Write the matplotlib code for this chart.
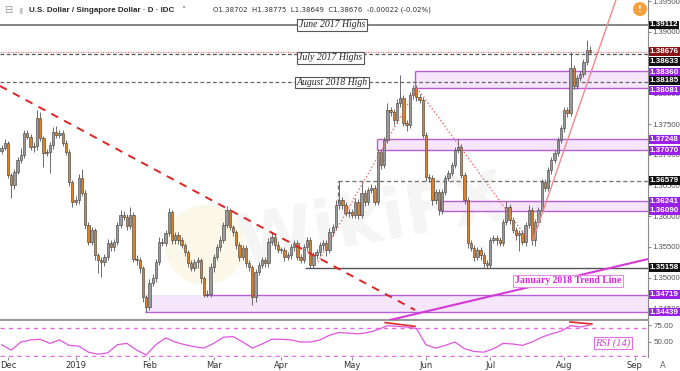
"""
USD/SGD daily candles with RSI(14) - TradingView style recreation
"""

import numpy as np
import matplotlib
matplotlib.use("Agg")
import matplotlib.pyplot as plt
from matplotlib.patches import Rectangle, Ellipse
from matplotlib.transforms import offset_copy

# ---- data -------------------------------------------------------------
# bar index 0 = 3 Dec 2018, one bar per weekday, first bar is index -2
first_bar = -2
first_open = 1.3706
closes = [
    1.3711, 1.3719,
    1.3667, 1.3650, 1.3672, 1.3691, 1.3699, 1.3735, 1.3729, 1.3712, 1.3714, 1.3760,
    1.3727, 1.3703, 1.3704, 1.3716, 1.3737, 1.3732, 1.3735, 1.3719, 1.3704, 1.3655,
    1.3623, 1.3626, 1.3662, 1.3637, 1.3585, 1.3558, 1.3577, 1.3536, 1.3528, 1.3525,
    1.3533, 1.3556, 1.3549, 1.3558, 1.3585, 1.3602, 1.3598, 1.3584, 1.3602, 1.3531,
    1.3528, 1.3515, 1.3468, 1.3452, 1.3491, 1.3499, 1.3525, 1.3558, 1.3556, 1.3572,
    1.3606, 1.3561, 1.3569, 1.3561, 1.3553, 1.3541, 1.3523, 1.3515, 1.3525, 1.3528,
    1.3499, 1.3471, 1.3474, 1.3517, 1.3533, 1.3549, 1.3561, 1.3585, 1.3610, 1.3582,
    1.3574, 1.3553, 1.3533, 1.3548, 1.3523, 1.3517, 1.3468, 1.3509, 1.3520, 1.3528,
    1.3523, 1.3558, 1.3566, 1.3553, 1.3545, 1.3545, 1.3533, 1.3536, 1.3549, 1.3556,
    1.3533, 1.3528, 1.3549, 1.3561, 1.3520, 1.3536, 1.3541, 1.3553, 1.3556, 1.3545,
    1.3574, 1.3582, 1.3618, 1.3626, 1.3618, 1.3605, 1.3606, 1.3602, 1.3623, 1.3602,
    1.3637, 1.3623, 1.3642, 1.3646, 1.3623, 1.3704, 1.3683, 1.3724, 1.3773, 1.3769,
    1.3756, 1.3784, 1.3792, 1.3752, 1.3748, 1.3797, 1.3809, 1.3794, 1.3789, 1.3732,
    1.3664, 1.3662, 1.3626, 1.3639, 1.3610, 1.3639, 1.3662, 1.3670, 1.3683, 1.3708,
    1.3712, 1.3667, 1.3626, 1.3556, 1.3548, 1.3533, 1.3545, 1.3536, 1.3523, 1.3520,
    1.3561, 1.3564, 1.3561, 1.3556, 1.3590, 1.3615, 1.3593, 1.3577, 1.3569, 1.3572,
    1.3558, 1.3585, 1.3610, 1.3561, 1.3590, 1.3610, 1.3655, 1.3646, 1.3675, 1.3691,
    1.3703, 1.3724, 1.3743, 1.3773, 1.3768, 1.3841, 1.3812, 1.3825, 1.3831, 1.3851,
    1.38702, 1.38676,
]
# wick lengths in pips beyond the candle body
upper_wick = [
    5, 6,
    4, 3, 4, 5, 12, 5, 6, 5, 6, 13,
    10, 4, 5, 5, 8, 10, 5, 5, 5, 5,
    4, 6, 6, 15, 5, 5, 6, 4, 4, 6,
    5, 6, 5, 5, 5, 8, 6, 5, 13, 5,
    5, 5, 4, 4, 6, 6, 5, 8, 6, 6,
    8, 4, 5, 5, 5, 4, 4, 5, 5, 5,
    4, 4, 5, 6, 5, 6, 6, 5, 6, 4,
    4, 4, 5, 5, 5, 5, 4, 5, 5, 6,
    6, 6, 6, 5, 6, 5, 5, 5, 5, 5,
    5, 5, 5, 5, 5, 6, 5, 5, 5, 5,
    6, 5, 8, 32, 5, 5, 5, 5, 6, 5,
    20, 5, 5, 6, 5, 5, 5, 5, 12, 5,
    5, 6, 37, 5, 5, 5, 5, 5, 5, 5,
    5, 5, 5, 5, 5, 5, 5, 5, 5, 5,
    13, 5, 5, 5, 5, 5, 5, 5, 5, 5,
    5, 5, 5, 5, 5, 10, 5, 5, 5, 6,
    5, 5, 8, 5, 5, 5, 5, 5, 5, 5,
    5, 5, 5, 5, 5, 26, 5, 5, 5, 5,
    16, 7,
]
lower_wick = [
    5, 4,
    5, 21, 6, 4, 4, 5, 4, 5, 8, 6,
    5, 23, 5, 34, 6, 5, 5, 5, 5, 6,
    8, 5, 6, 5, 6, 5, 5, 8, 21, 24,
    6, 5, 6, 5, 5, 5, 5, 6, 5, 6,
    8, 8, 8, 8, 5, 5, 6, 5, 5, 5,
    4, 6, 6, 6, 5, 6, 6, 5, 5, 10,
    8, 2, 3, 5, 8, 5, 5, 5, 5, 5,
    6, 6, 6, 5, 5, 6, 13, 8, 5, 5,
    5, 5, 5, 6, 5, 5, 6, 5, 5, 5,
    5, 5, 5, 5, 4, 5, 5, 6, 8, 10,
    5, 6, 5, 6, 6, 5, 6, 5, 5, 6,
    5, 6, 5, 5, 5, 5, 6, 5, 5, 6,
    8, 5, 6, 6, 10, 5, 6, 6, 5, 5,
    6, 6, 8, 6, 8, 6, 5, 5, 5, 5,
    5, 5, 6, 8, 5, 6, 5, 8, 6, 4,
    5, 5, 8, 5, 5, 5, 5, 5, 8, 25,
    5, 6, 5, 8, 10, 6, 5, 5, 5, 6,
    5, 5, 5, 6, 6, 5, 5, 5, 5, 5,
    5, 3,
]

# RSI(14), read every third bar
rsi_first_bar = -2
rsi_step = 3
rsi_values = [
    46, 38, 50, 53, 54, 48, 53, 45, 44, 35,
    32, 34, 46, 48, 38, 31, 46, 56, 50, 46,
    43, 41, 48, 57, 58, 50, 41, 47, 54, 54,
    53, 50, 50, 53, 60, 64, 63, 62, 64, 68,
    74, 73, 72, 70, 46, 41, 45, 50, 40, 36,
    35, 40, 48, 47, 45, 50, 57, 62, 66, 74,
    72, 75,
]

month_labels = ['Dec', '2019', 'Feb', 'Mar', 'Apr', 'May', 'Jun', 'Jul', 'Aug', 'Sep']
month_bars = [0, 21, 44, 64, 85, 107, 130, 150, 173, 195]

# horizontal levels
last_close = 1.38676
june_2017_high = 1.39112
july_2017_high = 1.38633
aug_2018_high = 1.38185
mid_level = 1.36579
mid_level_start = 102.6
mid_level_drop = 1.36214
april_low = 1.35158
april_low_start = 92.4

# shaded zones
zone_low = [1.38081, 1.37070, 1.36090, 1.34439]
zone_high = [1.38360, 1.37248, 1.36241, 1.34719]
zone_start = [126.6, 114.8, 134.4, 42.6]
zone_top_start = [126.6, 114.8, 134.4, 61.3]

# drawn trend lines (bar, price)
down_bars, down_prices = [-2.5, 126.6], [1.38119, 1.34472]
rise_bars, rise_prices = [96.4, 127.2], [1.35254, 1.38086]
fall_bars, fall_prices = [127.2, 161.4], [1.38086, 1.35644]
aug_bars, aug_prices = [163.3, 189.1], [1.35612, 1.39519]
jan_bars, jan_prices = [118.8, 199.1], [1.34309, 1.35302]
rsi_div1_bars, rsi_div1_vals = [117.3, 126.6], [78.5, 73.0]
rsi_div2_bars, rsi_div2_vals = [174.8, 181.6], [79.5, 76.5]

# price scale labels
axis_label_prices = [1.39112, 1.38676, 1.38633, 1.38360, 1.38185, 1.38081, 1.37248,
                     1.37070, 1.36579, 1.36241, 1.36090, 1.35158, 1.34719, 1.34439]
axis_label_kind = ['k', 'r', 'k', 'p', 'k', 'p', 'p', 'p', 'k', 'p', 'p', 'k', 'p', 'p']
axis_label_nudge = [0, 0, 7, 1, -1, 2, 0, 0, 0, 0, 0, 0, 0, 0]
plain_ticks = [1.345, 1.350, 1.355, 1.360, 1.365, 1.370, 1.375, 1.380, 1.385, 1.390, 1.395]

# ---- figure -----------------------------------------------------------
W, H = 680, 371
fig = plt.figure(figsize=(W / 100, H / 100), dpi=100)
fig.patch.set_facecolor('white')


def fx(px):
    return px / W


def fy(py):
    return 1 - py / H


ax = fig.add_axes([0, fy(320), fx(648), 320 / H])
ax_rsi = fig.add_axes([0, fy(357), fx(648), 36 / H])

XL = (-2.49, 199.07)
ax.set_xlim(*XL)
ax.set_ylim(1.34309, 1.39519)
ax_rsi.set_xlim(*XL)
ax_rsi.set_ylim(27.9, 80.9)

# candles
bars = np.arange(first_bar, first_bar + len(closes))
c = np.array(closes)
o = np.concatenate([[first_open], c[:-1]])
up = c >= o
body_lo = np.minimum(o, c)
body_hi = np.maximum(o, c)
highs = body_hi + np.array(upper_wick) * 1e-4
lows = body_lo - np.array(lower_wick) * 1e-4

ax.vlines(bars, lows, highs, color='#555555', lw=0.6, zorder=3)
heights = np.maximum(body_hi - body_lo, 0.00008)
ax.bar(bars[up], heights[up], bottom=body_lo[up], width=0.72,
       color='#9a9a9a', edgecolor='#3a3a3a', lw=0.4, zorder=4)
ax.bar(bars[~up], heights[~up], bottom=body_lo[~up], width=0.72,
       color='#d9822b', edgecolor='#3a3a3a', lw=0.4, zorder=4)

# zones
for lo, hi, s, ts in zip(zone_low, zone_high, zone_start, zone_top_start):
    ax.add_patch(Rectangle((s, lo), 210 - s, hi - lo, fc='#f5e6fb', ec='none', zorder=1))
    ax.hlines(lo, s, 210, color='#b65fd9', lw=1.0, zorder=2)
    ax.hlines(hi, ts, 210, color='#b65fd9', lw=1.0, zorder=2)
    if s == ts:
        ax.vlines(s, lo, hi, color='#b65fd9', lw=1.0, zorder=2)

# levels
ax.axhline(june_2017_high, color='#707070', lw=1.2, zorder=2)
ax.axhline(last_close, color='#e08080', lw=0.9, ls=(0, (1, 1)), zorder=2)
ax.axhline(july_2017_high, color='#555555', lw=0.9, ls=(0, (3, 2)), zorder=2)
ax.axhline(aug_2018_high, color='#666666', lw=0.9, ls=(0, (3, 2)), zorder=2)
ax.hlines(mid_level, mid_level_start, 210, color='#777777', lw=1.0, ls=(0, (3, 2)), zorder=2)
ax.vlines(mid_level_start, mid_level_drop, mid_level, color='#777777', lw=1.0,
          ls=(0, (3, 2)), zorder=2)
ax.hlines(april_low, april_low_start, 210, color='#555555', lw=1.0, zorder=2)

# trend lines
ax.plot(down_bars, down_prices, color='#e02424', lw=1.4, ls=(0, (4, 3.5)), zorder=5)
ax.plot(rise_bars, rise_prices, color='#f06a6a', lw=1.0, ls=(0, (1, 1.6)), zorder=5)
ax.plot(fall_bars, fall_prices, color='#f06a6a', lw=1.0, ls=(0, (1, 1.6)), zorder=5)
ax.plot(aug_bars, aug_prices, color='#f08a8a', lw=1.0, zorder=5)
ax.plot(jan_bars, jan_prices, color='#d63ad6', lw=1.5, zorder=5)

# level captions
cap = dict(fontsize=7, family='Liberation Serif', style='italic', color='#222222',
           ha='center', va='center', zorder=6)
box = dict(boxstyle='square,pad=0.15', fc='white', ec='#555555', lw=0.8)
ax.text(100.8, june_2017_high, 'June 2017 Highs', bbox=box, **cap)
ax.text(100.2, 1.38575, 'July 2017 Highs', bbox=box, **cap)
ax.text(100.8, 1.38176, 'August 2018 High', bbox=box, **cap)
ax.text(174.2, 1.34944, 'January 2018 Trend Line', fontsize=7, family='Liberation Serif',
        weight='bold', color='#dd22dd', ha='center', va='center', zorder=6,
        bbox=dict(boxstyle='square,pad=0.15', fc='white', ec='#e58ee5', lw=0.8))

# watermark
ax.add_patch(Ellipse((fx(205), fy(245)), 80 / W, 80 / H, transform=fig.transFigure,
                     fc='#f6ecc8', ec='none', alpha=0.4, zorder=0))
ax.text(fx(372), fy(222), 'WikiFX', transform=fig.transFigure, fontsize=50,
        weight='bold', color='#8c8c8c', alpha=0.09, rotation=10,
        ha='center', va='center', zorder=0)

# axes styling (main)
for side in ['left', 'top']:
    ax.spines[side].set_visible(False)
ax.spines['right'].set_color('#8a8a8a')
ax.spines['bottom'].set_color('#9a9a9a')
ax.spines['bottom'].set_linewidth(1.6)
ax.set_xticks([])
ax.yaxis.tick_right()
ax.set_yticks(plain_ticks)
ax.set_yticklabels([f'{t:.5f}' for t in plain_ticks], family='Liberation Sans')
ax.tick_params(axis='y', labelsize=5.6, labelcolor='#555555', color='#8a8a8a',
               length=2, pad=1)

# price scale value labels
kind_colors = {'k': '#111111', 'r': '#8e1414', 'p': '#9b1fe8'}
for p, k, dy in zip(axis_label_prices, axis_label_kind, axis_label_nudge):
    tr = offset_copy(ax.get_yaxis_transform(), fig=fig, x=0, y=-dy, units='dots')
    ax.text(1.003, p, f'{p:.5f}', transform=tr, fontsize=5.8, weight='bold',
            family='Liberation Sans', color='white', ha='left', va='center',
            clip_on=False, zorder=10,
            bbox=dict(boxstyle='square,pad=0.12', fc=kind_colors[k], ec='none'))

# RSI panel
rsi_bars = np.arange(rsi_first_bar, rsi_first_bar + rsi_step * len(rsi_values), rsi_step)
ax_rsi.plot(rsi_bars, rsi_values, color='#e055e0', lw=0.9, zorder=3)
ax_rsi.axhline(70, color='#e36ae3', lw=1.0, ls=(0, (3, 3)), zorder=2)
ax_rsi.axhline(30, color='#e36ae3', lw=1.0, ls=(0, (3, 3)), zorder=2)
ax_rsi.plot(rsi_div1_bars, rsi_div1_vals, color='#e02a2a', lw=1.2, zorder=4)
ax_rsi.plot(rsi_div2_bars, rsi_div2_vals, color='#e02a2a', lw=1.2, zorder=4)
ax_rsi.text(188.2, 48.5, 'RSI (14)', fontsize=7.5, family='Liberation Serif',
            style='italic', color='#d640d6', ha='center', va='center', zorder=6,
            bbox=dict(boxstyle='square,pad=0.15', fc='white', ec='#e070e0', lw=0.8))
for side in ['left', 'top', 'bottom']:
    ax_rsi.spines[side].set_visible(False)
ax_rsi.spines['right'].set_color('#8a8a8a')
ax_rsi.yaxis.tick_right()
ax_rsi.set_yticks([50, 75])
ax_rsi.set_yticklabels(['50.00', '75.00'], family='Liberation Sans')
ax_rsi.tick_params(axis='y', labelsize=5.8, labelcolor='#555555', color='#8a8a8a',
                   length=2, pad=2)
ax_rsi.set_xticks(month_bars)
ax_rsi.set_xticklabels(month_labels)
ax_rsi.tick_params(axis='x', labelsize=6, labelcolor='#333333', color='#8a8a8a',
                   length=2, pad=1)

# header
fig.text(fx(4), fy(10), '⊟', fontsize=7, color='#999999', va='center')
fig.text(fx(18), fy(10), '▮', fontsize=6, color='#c8c8c8', va='center')
fig.text(fx(29), fy(10), 'U.S. Dollar / Singapore Dollar · D · IDC', fontsize=5.8,
         weight='bold', family='Liberation Sans', color='#2a2a2a', va='center')
fig.text(fx(181), fy(10), '˅', fontsize=6, color='#555555', va='center')
fig.text(fx(213), fy(10), 'O1.38702  H1.38775  L1.38649  C1.38676  -0.00022 (-0.02%)',
         fontsize=5.0, color='#333333', va='center')
fig.text(fx(640), fy(9), '!', fontsize=6, weight='bold', color='white', ha='center',
         va='center', bbox=dict(boxstyle='circle,pad=0.3', fc='#f5a03a', ec='none'))
fig.text(fx(663), fy(365), 'A', fontsize=6, color='#666666', ha='center', va='center')

fig.savefig('out.png', dpi=100, facecolor='white')
